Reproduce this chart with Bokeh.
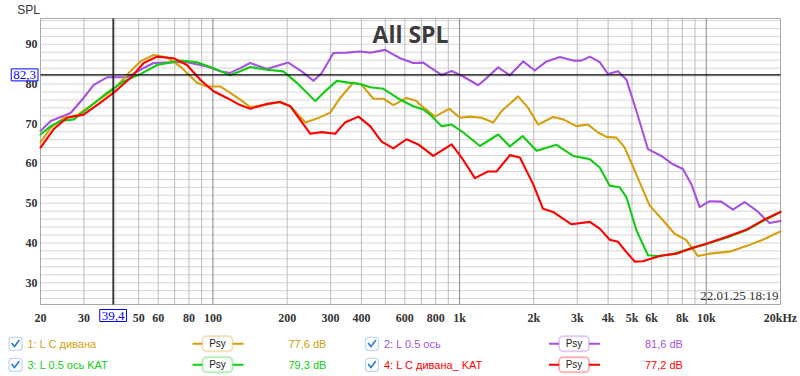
from bokeh.plotting import figure
from bokeh.models import Range1d, FixedTicker, Label, BoxAnnotation
from bokeh.layouts import column
from bokeh.embed import file_html
from bokeh.resources import INLINE
from bokeh.core.properties import value
import math

# ---------------- data ----------------
gold_f = [20, 22, 24.9, 28.2, 33.9, 39.6, 46.3, 50.8, 57.5, 65.2,
          73.8, 86.2, 94.6, 107, 117.6, 129, 141.7, 160, 187, 206,
          237, 264, 299, 328, 371, 401, 447, 491, 539, 610,
          670, 691, 759, 795, 908, 1003, 1101, 1228, 1368, 1480,
          1728, 1896, 2082, 2394, 2628, 2978, 3318, 3642, 3940, 4324,
          4671, 5128, 5897, 6676, 7446, 8304, 9252, 10320, 12432, 14528,
          16960, 20000]
gold_db = [65.3, 69.0, 71.5, 72.2, 75.7, 78.6, 83.2, 85.7, 87.3, 86.7,
           84.4, 80.3, 79.4, 79.4, 77.8, 76.1, 74.2, 74.7, 75.5, 74.4,
           70.3, 71.3, 72.8, 76.5, 80.4, 79.8, 76.3, 76.3, 74.7, 76.5,
           75.7, 74.8, 72.8, 71.8, 73.8, 71.5, 71.8, 71.5, 70.3, 73.2,
           76.9, 74.0, 69.8, 71.7, 71.1, 69.4, 69.8, 67.8, 66.7, 66.5,
           64.0, 58.2, 49.4, 45.7, 42.3, 40.7, 36.7, 37.3, 37.8, 39.2,
           40.8, 42.9]

purple_f = [20, 22, 26.5, 29.9, 32.9, 37.2, 44.9, 50.8, 57.5, 69.3,
            78.5, 94.6, 107, 117.6, 129, 141.7, 165.5, 202, 229, 256,
            276, 308, 349, 395, 434, 499, 574, 649, 713, 759,
            846, 929, 1035, 1190, 1287, 1434, 1599, 1810, 2018, 2252,
            2549, 2885, 3120, 3371, 3700, 3998, 4389, 4746, 5210, 5804,
            6577, 7328, 8045, 8700, 9400, 10320, 11508, 12822, 14302, 15948,
            18056, 20000]
purple_db = [68.2, 70.7, 72.7, 76.5, 79.8, 81.7, 81.7, 83.6, 85.3, 85.5,
             85.5, 84.4, 83.2, 82.8, 84.0, 85.3, 83.8, 85.4, 83.2, 80.8,
             82.8, 87.8, 87.9, 88.2, 87.9, 88.6, 86.5, 85.3, 85.4, 84.2,
             82.3, 83.3, 81.9, 79.7, 81.5, 84.2, 82.2, 85.7, 83.4, 85.7,
             86.8, 85.9, 85.9, 86.9, 85.5, 82.5, 83.2, 81.1, 73.2, 63.6,
             61.9, 59.8, 58.6, 54.8, 49.0, 50.5, 50.4, 48.4, 50.3, 48.2,
             45.0, 45.5]

green_f = [20, 22, 24.1, 27.3, 31.9, 37.2, 43.5, 50.8, 59.4, 73.8,
           86.2, 100.6, 117.6, 129, 141.7, 165.5, 193, 219, 260, 290,
           318, 360, 395, 434, 491, 574, 649, 713, 759, 846,
           929, 1035, 1209, 1434, 1599, 1801, 2051, 2472, 2885, 3371,
           3700, 4062, 4458, 4746, 5210, 5804, 6370, 7328, 8831, 10006,
           12058, 14528, 16960, 20000]
green_db = [67.3, 69.4, 70.7, 71.1, 74.4, 77.8, 80.7, 82.5, 84.8, 85.9,
            85.5, 84.0, 82.2, 83.2, 84.3, 83.6, 83.2, 80.3, 75.7, 78.6,
            80.8, 80.3, 80.0, 79.2, 78.8, 76.1, 74.4, 73.6, 72.3, 69.4,
            69.8, 67.8, 64.4, 67.3, 64.3, 66.9, 63.2, 64.7, 61.9, 61.1,
            59.0, 54.4, 54.0, 51.5, 43.2, 36.9, 36.7, 37.2, 38.8, 39.7,
            41.3, 43.2, 45.5, 47.8]

red_f = [20, 22.6, 25.6, 29.9, 35, 39.6, 46.3, 52.4, 59.4, 69.3,
         78.5, 88.9, 100.6, 114, 129, 141.7, 165.5, 187, 206, 248,
         276, 313, 343, 389, 434, 483, 539, 610, 680, 782,
         929, 1019, 1154, 1306, 1413, 1599, 1756, 1987, 2180, 2394,
         2842, 3371, 3700, 4062, 4389, 4671, 5128, 5540, 6472, 7564,
         8831, 10006, 12058, 14528, 16960, 20000]
red_db = [64.0, 68.6, 71.5, 72.3, 75.3, 77.8, 81.5, 85.3, 86.9, 86.5,
          84.8, 81.1, 78.2, 76.5, 74.7, 73.8, 75.0, 75.5, 74.4, 67.5,
          67.9, 67.5, 70.3, 71.8, 69.4, 65.5, 63.8, 66.1, 64.8, 61.9,
          64.8, 61.5, 56.3, 58.0, 58.0, 62.1, 61.5, 54.8, 48.6, 47.8,
          44.7, 45.3, 43.6, 40.8, 40.3, 38.2, 35.3, 35.4, 36.7, 37.3,
          38.8, 39.8, 41.5, 43.3, 45.7, 47.8]

series_names = ["1: L C дивана", "2: L 0.5 ось", "3: L 0.5 ось KAT", "4: L C дивана_ KAT"]
series_values = ["77,6 dB", "81,6 dB", "79,3 dB", "77,2 dB"]

x_ticks = [20, 30, 40, 50, 60, 80, 100, 200, 300, 400, 600, 800,
           1000, 2000, 3000, 4000, 5000, 6000, 8000, 10000, 20000]
x_tick_labels = ["20", "30", "", "50", "60", "80", "100", "200", "300", "400", "600", "800",
                 "1k", "2k", "3k", "4k", "5k", "6k", "8k", "10k", "20kHz"]
x_grid_lines = [30, 40, 50, 60, 70, 80, 90,
                200, 300, 400, 500, 600, 700, 800, 900,
                2000, 3000, 4000, 5000, 6000, 7000, 8000, 9000]
x_decades = [100, 1000, 10000]
y_ticks = [30, 40, 50, 60, 70, 80, 90]
y_grid_lines = list(range(26, 97, 2))

f_min, f_max = 20, 20000
db_min, db_max = 24.5, 96.5

cursor_freq = 39.4
cursor_level = 82.3
cursor_freq_text = "39,4"
cursor_level_text = "82,3"
title_text = "All SPL"
date_text = "22.01.25 18:19"

# ---------------- style / layout ----------------
GOLD = "#d4a010"
PURPLE = "#a652e0"
GREEN = "#12cc12"
RED = "#ff0000"
colors = [GOLD, PURPLE, GREEN, RED]
BLUE = "#0000ff"
CHECK_BLUE = "#2f7fd8"
AXIS_FONT = "Liberation Sans Narrow"
TEXT_FONT = "Liberation Sans"

W, H_MAIN, H_LEG = 800, 330, 46
FL, FR, FT, FB = 40, 780, 18, 304          # plot-area edges in canvas pixels

px_per_dec = (FR - FL) / math.log10(f_max / f_min)
px_per_db = (FB - FT) / (db_max - db_min)
x_lo = f_min * 10 ** (-FL / px_per_dec)
x_hi = f_max * 10 ** ((W - FR) / px_per_dec)
y_hi = db_max + FT / px_per_db
y_lo = db_min - (H_MAIN - FB) / px_per_db

# ---------------- main chart ----------------
p = figure(width=W, height=H_MAIN, x_axis_type="log",
           x_range=Range1d(x_lo, x_hi), y_range=Range1d(y_lo, y_hi),
           output_backend="svg", toolbar_location=None, min_border=0)
p.background_fill_color = "white"
p.border_fill_color = "white"
p.outline_line_color = None
p.grid.visible = False

p.xaxis.fixed_location = db_min
p.xaxis.bounds = (f_min, f_max)
p.yaxis.fixed_location = f_min
p.yaxis.bounds = (db_min, db_max)
p.xaxis.ticker = FixedTicker(ticks=x_ticks)
p.xaxis.major_label_overrides = {float(t): lab for t, lab in zip(x_ticks, x_tick_labels)}
p.yaxis.ticker = FixedTicker(ticks=y_ticks)
for ax in (p.xaxis, p.yaxis):
    ax.axis_line_color = None
    ax.major_tick_line_color = None
    ax.minor_tick_line_color = None
    ax.major_tick_out = 0
    ax.major_tick_in = 0
    ax.minor_tick_out = 0
    ax.minor_tick_in = 0
    ax.major_label_text_font = AXIS_FONT
    ax.major_label_text_font_style = "bold"
    ax.major_label_text_font_size = "12px"
    ax.major_label_text_color = "#333333"
p.xaxis.major_label_standoff = 6
p.yaxis.major_label_standoff = 3

# plot-area grid
p.segment(x0=[f_min] * len(y_grid_lines), x1=[f_max] * len(y_grid_lines),
          y0=y_grid_lines, y1=y_grid_lines, line_color="#d6d6d6", line_width=1)
p.segment(x0=x_grid_lines, x1=x_grid_lines, y0=[db_min] * len(x_grid_lines),
          y1=[db_max] * len(x_grid_lines), line_color="#bcbcbc", line_width=1)
p.segment(x0=x_decades, x1=x_decades, y0=[db_min] * 3, y1=[db_max] * 3,
          line_color="#858585", line_width=1)
p.quad(left=f_min, right=f_max, bottom=db_min, top=db_max,
       fill_color=None, line_color="#a8a8a8", line_width=1)

for f, db, c in [(purple_f, purple_db, PURPLE), (gold_f, gold_db, GOLD),
                 (green_f, green_db, GREEN), (red_f, red_db, RED)]:
    p.line(f, db, line_color=c, line_width=2.1, line_join="round", line_cap="round")

# cursor cross
p.segment(x0=[cursor_freq, f_min], x1=[cursor_freq, f_max],
          y0=[db_min, cursor_level], y1=[db_max, cursor_level],
          line_color="black", line_width=1.3)

title_f = f_min * 10 ** ((410 - FL) / px_per_dec)
p.add_layout(Label(x=title_f, y=db_max - (33 - FT) / px_per_db, text=title_text,
                   text_align="center", text_baseline="middle",
                   text_font="Open Sans", text_font_style="bold", text_font_size="23px",
                   text_color="#3c3c3c"))
p.add_layout(Label(x=f_max, y=db_min, x_offset=-2, y_offset=2, text=date_text,
                   text_align="right", text_baseline="bottom",
                   text_font=AXIS_FONT, text_font_size="13px", text_color="#333333"))
spl_f = f_min * 10 ** ((28 - FL) / px_per_dec)
p.add_layout(Label(x=spl_f, y=db_max + (FT - 9) / px_per_db, text="SPL",
                   text_align="center", text_baseline="middle",
                   text_font=TEXT_FONT, text_font_size="12px", text_color="#333333"))
p.add_layout(Label(x=f_min, y=cursor_level, x_offset=-2.5, text=cursor_level_text,
                   text_align="right", text_baseline="middle",
                   text_font=AXIS_FONT, text_font_size="13px", text_color=BLUE,
                   border_line_color=BLUE, border_line_width=1,
                   background_fill_color="white", padding=2))
p.add_layout(Label(x=cursor_freq, y=db_min, y_offset=-5, text=cursor_freq_text,
                   text_align="center", text_baseline="top",
                   text_font=AXIS_FONT, text_font_size="13px", text_color=BLUE,
                   border_line_color=BLUE, border_line_width=1,
                   background_fill_color="white", padding=2))

# ---------------- legend strip ----------------
leg = figure(width=W, height=H_LEG, x_range=Range1d(0, W), y_range=Range1d(0, H_LEG),
             output_backend="svg", toolbar_location=None, min_border=0,
             x_axis_location=None, y_axis_location=None)
leg.grid.visible = False
leg.outline_line_color = None
leg.background_fill_color = "white"
leg.border_fill_color = "white"

col_cx = [15, 371.5]
row_cy = [H_LEG - (343.3 - H_MAIN), H_LEG - (364.3 - H_MAIN)]
slots = [(0, 0), (1, 0), (0, 1), (1, 1)]

txt_x, txt_y, txt_c = [], [], []
val_x, psy_x = [], []
for i, (ci, ri) in enumerate(slots):
    cx, cy = col_cx[ci], row_cy[ri]
    col = colors[i]
    leg.add_layout(BoxAnnotation(left=cx - 6.5, right=cx + 6.5, bottom=cy - 6.5, top=cy + 6.5,
                                 border_radius=3, line_color=CHECK_BLUE, line_width=1.3,
                                 fill_color="white", fill_alpha=1, level="underlay"))
    leg.line([cx - 3.5, cx - 1, cx + 3.5], [cy + 0.3, cy - 2.8, cy + 3.2],
             line_color=CHECK_BLUE, line_width=1.7, line_join="round", line_cap="round")
    leg.segment(x0=[cx + 177, cx + 217], y0=[cy, cy], x1=[cx + 187, cx + 228], y1=[cy, cy],
                line_color=col, line_width=2)
    leg.add_layout(BoxAnnotation(left=cx + 187, right=cx + 217, bottom=cy - 7.5, top=cy + 7.5,
                                 border_radius=4, line_color=col, line_width=2,
                                 fill_color="white", fill_alpha=1, level="underlay"))
    psy_x.append(cx + 202)
    txt_x.append(cx + 12)
    txt_y.append(cy)
    txt_c.append(col)
    val_x.append(cx + 273)

leg.text(x=txt_x, y=txt_y, text=series_names, text_color=txt_c, text_font=value(TEXT_FONT),
         text_font_size=value("11px"), text_baseline="middle", text_align="left")
leg.text(x=val_x, y=txt_y, text=series_values, text_color=txt_c, text_font=value(TEXT_FONT),
         text_font_size=value("11px"), text_baseline="middle", text_align="left")
leg.text(x=psy_x, y=txt_y, text=["Psy"] * 4, text_color="#222222", text_font=value(TEXT_FONT),
         text_font_size=value("10px"), text_baseline="middle", text_align="center")

layout = column(p, leg, spacing=0)
open("out.html", "w").write(file_html(layout, INLINE))
